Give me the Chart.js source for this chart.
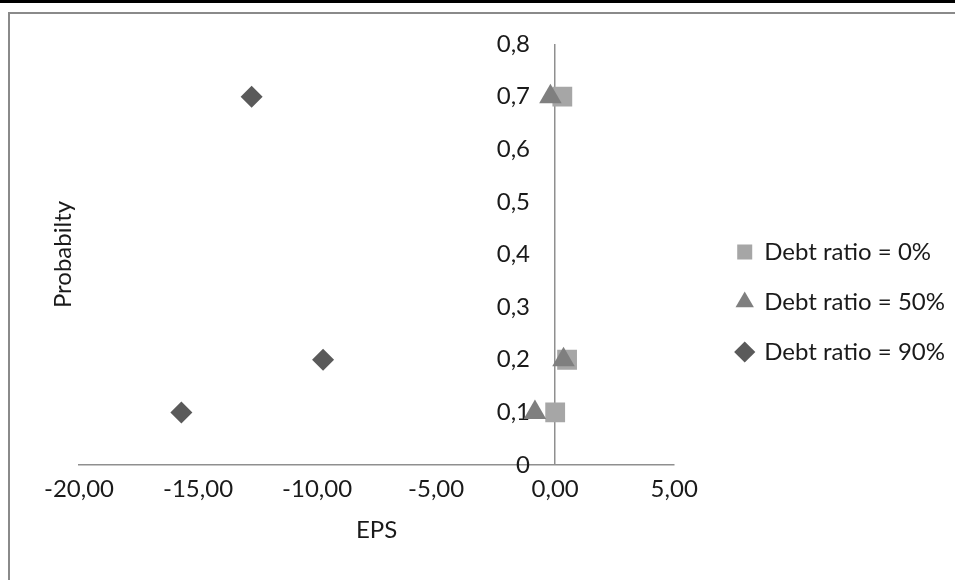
<!DOCTYPE html>
<html>
<head>
<meta charset="utf-8">
<script src="https://cdn.jsdelivr.net/npm/chart.js@4.4.1/dist/chart.umd.min.js"></script>
<style>
  html, body { margin: 0; padding: 0; background: #fff; }
  body { width: 955px; height: 580px; position: relative; overflow: hidden; }
  .top-rule { position: absolute; left: 0; top: 0; width: 955px; height: 3px; background: #000; }
  .frame { position: absolute; left: 8px; top: 12px; width: 1000px; height: 700px;
           border-top: 2px solid #8a8a8a; border-left: 2px solid #8a8a8a; }
  #c { position: absolute; left: 0; top: 0; }
</style>
</head>
<body>
<div class="top-rule"></div>
<div class="frame"></div>
<canvas id="c" width="955" height="580"></canvas>
<script>
// Probability of each scenario (shared by all three capital structures)
const probability = [0.1, 0.2, 0.7];

// Earnings per share for each scenario, by debt ratio
const epsDebt0  = [0.0, 0.5, 0.3];
const epsDebt50 = [-0.85, 0.35, -0.2];
const epsDebt90 = [-15.7, -9.75, -12.75];

const seriesLabels = ['Debt ratio = 0%', 'Debt ratio = 50%', 'Debt ratio = 90%'];

const xTickLabels = ['-20,00', '-15,00', '-10,00', '-5,00', '0,00', '5,00'];
const yTickLabels = ['0', '0,1', '0,2', '0,3', '0,4', '0,5', '0,6', '0,7', '0,8'];

const toPoints = eps => eps.map((x, i) => ({ x, y: probability[i] }));

const FONT_FAMILY = 'Lato';
const FONT_SIZE = 24;
const FONT = { family: FONT_FAMILY, size: FONT_SIZE };
const INK = '#1a1a1a';
const AXIS = '#8f8f8f';

// Layout constants (canvas pixels)
const W = 955;
const PLOT_LEFT = 79;
const PLOT_RIGHT = 675;
const Y_LABEL_RIGHT = 530;   // right edge of the probability labels beside the zero line
const LEGEND_LEFT = 712;
const LEGEND_PAD = 26;
const LEGEND_BOX = 15;

// text measurements so the legend column and y labels land where wanted
const meas = document.createElement('canvas').getContext('2d');
meas.font = FONT_SIZE + 'px ' + FONT_FAMILY;
const legendTextW = Math.max(...seriesLabels.map(t => meas.measureText(t).width));
const yLabelW = Math.max(...yTickLabels.map(t => meas.measureText(t).width));
const legendW = LEGEND_PAD + LEGEND_BOX + FONT_SIZE / 2 + legendTextW + 10;
const padRight = Math.max(0, W - LEGEND_LEFT - legendW);

new Chart(document.getElementById('c'), {
  type: 'scatter',
  data: {
    datasets: [
      { label: seriesLabels[0], data: toPoints(epsDebt0), pointStyle: 'rect',
        pointRadius: 14, backgroundColor: '#a6a6a6', borderWidth: 0, order: 3 },
      { label: seriesLabels[1], data: toPoints(epsDebt50), pointStyle: 'triangle',
        pointRadius: 13, backgroundColor: '#7f7f7f', borderWidth: 0, order: 2 },
      { label: seriesLabels[2], data: toPoints(epsDebt90), pointStyle: 'rectRot',
        pointRadius: 11, backgroundColor: '#5a5a5a', borderWidth: 0, order: 1 }
    ]
  },
  options: {
    responsive: false,
    animation: false,
    devicePixelRatio: 1,
    layout: { padding: { left: 0, top: 44, right: padRight, bottom: 20 } },
    plugins: {
      tooltip: { enabled: false },
      legend: {
        position: 'right',
        maxWidth: 400,
        labels: {
          usePointStyle: true,
          boxWidth: LEGEND_BOX,
          boxHeight: LEGEND_BOX,
          padding: LEGEND_PAD,
          font: FONT,
          color: INK,
          sort: (a, b) => a.datasetIndex - b.datasetIndex
        }
      }
    },
    scales: {
      x: {
        type: 'linear',
        position: 'bottom',
        min: -20,
        max: 5,
        ticks: { stepSize: 5, padding: 10, font: FONT, color: INK, maxRotation: 0, autoSkip: false,
                 callback: (v, i) => xTickLabels[i] },
        // only the zero line is shown: it is the vertical axis through EPS = 0
        grid: { drawTicks: false, lineWidth: 1.5,
                color: c => (c.tick && c.tick.value === 0) ? AXIS : 'rgba(0,0,0,0)' },
        border: { color: AXIS, width: 1.5 },
        title: { display: true, text: 'EPS', font: FONT, color: INK, padding: { top: 0, bottom: 15 } },
        afterFit: s => { s.height = 95; }
      },
      y: {
        type: 'linear',
        position: 'left',
        min: 0,
        max: 0.8,
        // labels sit beside the zero line rather than at the plot edge
        ticks: { stepSize: 0.1, mirror: true, crossAlign: 'far',
                 padding: Y_LABEL_RIGHT - PLOT_LEFT - yLabelW,
                 font: FONT, color: INK, callback: (v, i) => yTickLabels[i] },
        grid: { display: false, drawTicks: false },
        border: { display: false },
        title: { display: true, text: 'Probabilty', font: FONT, color: INK, padding: { top: 49, bottom: 0 } },
        afterFit: s => {
          s.width = PLOT_LEFT;
          // the label offset must not reserve room above and below the plot
          s.paddingTop = 0;
          s.paddingBottom = 0;
        }
      },
      // spacer between plot and legend
      yGap: {
        type: 'linear',
        axis: 'y',
        position: 'right',
        ticks: { display: false },
        grid: { display: false, drawTicks: false },
        border: { display: false },
        afterFit: s => { s.width = LEGEND_LEFT - PLOT_RIGHT; }
      }
    }
  }
});
</script>
</body>
</html>
